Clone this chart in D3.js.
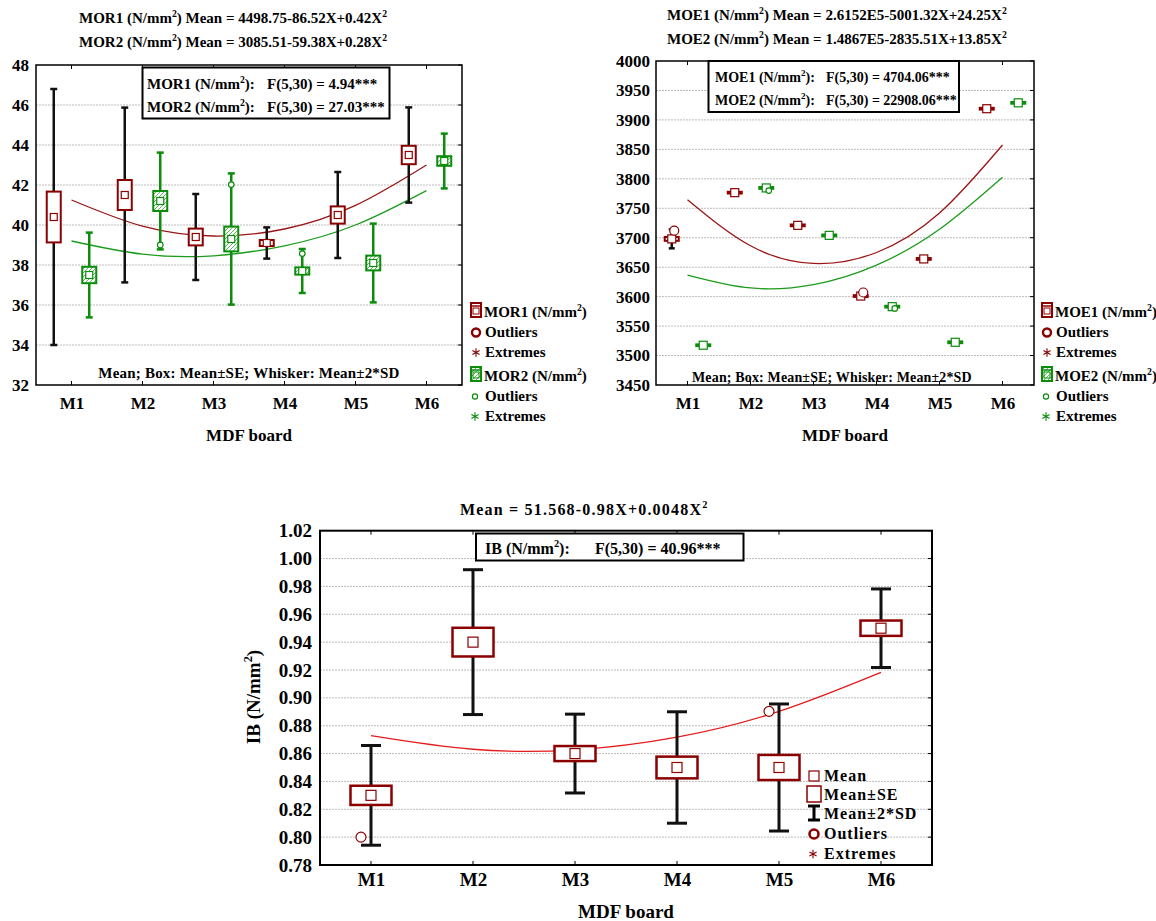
<!DOCTYPE html>
<html>
<head>
<meta charset="utf-8">
<script src="https://cdn.jsdelivr.net/npm/d3@7"></script>
<style>
  body { margin: 0; background: #fff; }
  svg { display: block; font-family: "Liberation Serif", "Times New Roman", serif; font-weight: bold; }
</style>
</head>
<body>
<svg id="chart" width="1156" height="921"></svg>
<script>
const boards = ["M1", "M2", "M3", "M4", "M5", "M6"];

// MOR (N/mm2): mean, standard error, 2*SD, fitted curve at each board
const mor1Mean = [40.4, 41.5, 39.4, 39.1, 40.5, 43.5];
const mor1SE   = [1.27, 0.75, 0.42, 0.15, 0.43, 0.46];
const mor1SD2  = [6.4, 4.37, 2.15, 0.78, 2.15, 2.38];
const mor1Fit  = [41.25, 39.94, 39.45, 39.8, 40.98, 43.0];
const mor1Out  = [];
const mor2Mean = [37.5, 41.2, 39.3, 37.7, 38.1, 43.2];
const mor2SE   = [0.41, 0.5, 0.62, 0.18, 0.37, 0.24];
const mor2SD2  = [2.12, 2.42, 3.28, 1.1, 1.97, 1.37];
const mor2Fit  = [39.2, 38.54, 38.46, 38.96, 40.0, 41.72];
const mor2Out  = [{ board: "M2", value: 39.0 }, { board: "M3", value: 42.02 }, { board: "M4", value: 38.57 }];
const morTicks = [32, 34, 36, 38, 40, 42, 44, 46, 48];

// MOE (N/mm2)
const moe1Mean = [3698, 3776.5, 3721, 3601, 3664, 3919];
const moe1SE   = [3.3, 1.5, 1.5, 1.5, 1.5, 1.5];
const moe1SD2  = [16, 2, 2, 2, 2, 2];
const moe1Fit  = [3764.6, 3686.3, 3656.3, 3674.9, 3741.9, 3857.4];
const moe1Out  = [{ board: "M1", value: 3712 }, { board: "M4", value: 3607 }];
const moe2Mean = [3517.5, 3784.5, 3704, 3583, 3522.5, 3929];
const moe2SE   = [1.5, 1.5, 1.5, 1.5, 1.5, 1.5];
const moe2SD2  = [2, 2, 2, 2, 2, 2];
const moe2Fit  = [3636.7, 3614.7, 3620.3, 3653.5, 3714.3, 3802.6];
const moe2Out  = [{ board: "M2", value: 3780 }, { board: "M4", value: 3580 }];
const moeTicks = [3450, 3500, 3550, 3600, 3650, 3700, 3750, 3800, 3850, 3900, 3950, 4000];

// IB (N/mm2)
const ibMean = [0.83, 0.94, 0.86, 0.85, 0.85, 0.95];
const ibSE   = [0.0069, 0.0103, 0.0054, 0.0078, 0.009, 0.0055];
const ibSD2  = [0.0358, 0.052, 0.0283, 0.04, 0.0456, 0.0282];
const ibFit  = [0.8729, 0.8631, 0.8627, 0.8718, 0.8903, 0.9183];
const ibOut  = [{ board: "M1", value: 0.800 }, { board: "M5", value: 0.8903 }];
const ibTicks = [0.78, 0.80, 0.82, 0.84, 0.86, 0.88, 0.90, 0.92, 0.94, 0.96, 0.98, 1.00, 1.02];

const RED = "#8b0000", GREEN = "#0b8c0b";

const svg = d3.select("#chart");
const defs = svg.append("defs");
const pat = defs.append("pattern").attr("id", "hatch")
  .attr("patternUnits", "userSpaceOnUse").attr("width", 4).attr("height", 4);
pat.append("rect").attr("width", 4).attr("height", 4).attr("fill", "#fff");
pat.append("path").attr("d", "M-1,1 l2,-2 M0,4 l4,-4 M3,5 l2,-2")
  .attr("stroke", "#5fba5f").attr("stroke-width", 1);

// text with ^2 superscripts
function rich(t, str) {
  const fs = parseFloat(t.attr("font-size"));
  const up = fs * 0.42;
  str.split(/\^(\d)/).forEach((p, k) => {
    if (!p) return;
    if (k % 2) t.append("tspan").attr("font-size", fs * 0.65).attr("dy", -up).text(p);
    else t.append("tspan").attr("dy", k ? up : 0).text(p);
  });
  return t;
}

function label(x, y, str, fs, opts = {}) {
  const t = svg.append("text").attr("x", x).attr("y", y).attr("font-size", fs)
    .attr("text-anchor", opts.anchor || "start")
    .attr("letter-spacing", opts.ls || 0);
  if (opts.rotate) t.attr("transform", `rotate(-90,${x},${y})`);
  return rich(t, str);
}

function drawPanel(c) {
  const g = svg.append("g");
  const x = d3.scalePoint().domain(boards).range([c.left, c.right]).padding(0.5);
  const y = d3.scaleLinear().domain(c.domain).range([c.bottom, c.top]);
  const step = x.step();

  g.append("g").selectAll("line").data(c.ticks.slice(1, -1)).join("line")
    .attr("x1", c.left).attr("x2", c.right)
    .attr("y1", d => y(d)).attr("y2", d => y(d))
    .attr("stroke", "#bcbcbc").attr("stroke-dasharray", "2,1");

  const ya = g.append("g").attr("transform", `translate(${c.left},0)`)
    .call(d3.axisLeft(y).tickValues(c.ticks).tickFormat(c.fmt).tickSize(0).tickPadding(c.yPad));
  ya.attr("font-family", null).attr("font-size", c.tickFs);
  ya.select(".domain").remove();

  const xa = g.append("g").attr("transform", `translate(0,${c.bottom})`)
    .call(d3.axisBottom(x).tickSize(0).tickPadding(c.xPad));
  xa.attr("font-family", null).attr("font-size", c.tickFs);
  xa.select(".domain").remove();

  g.append("text").attr("x", (c.left + c.right) / 2).attr("y", c.xTitleY)
    .attr("text-anchor", "middle").attr("font-size", c.tickFs).text("MDF board");

  // inner ticks on right, top, bottom
  g.append("g").selectAll("line").data(c.ticks).join("line")
    .attr("x1", c.right - 4).attr("x2", c.right).attr("y1", d => y(d)).attr("y2", d => y(d))
    .attr("stroke", "#000");
  g.append("g").selectAll("line").data(boards).join("line")
    .attr("x1", d => x(d)).attr("x2", d => x(d)).attr("y1", c.top).attr("y2", c.top + 4)
    .attr("stroke", "#000");
  g.append("g").selectAll("line").data(boards).join("line")
    .attr("x1", d => x(d)).attr("x2", d => x(d)).attr("y1", c.bottom - 4).attr("y2", c.bottom)
    .attr("stroke", "#000");

  // fitted curves
  c.series.forEach(s => {
    g.append("path")
      .datum(boards.map((b, i) => [x(b), y(s.fit[i])]))
      .attr("d", d3.line().curve(d3.curveNatural))
      .attr("fill", "none").attr("stroke", s.curve).attr("stroke-width", s.curveW || 1.3);
  });

  c.series.forEach(s => {
    const sg = g.append("g");
    const rows = boards.map((b, i) => ({
      cx: x(b) + s.offset * step, m: s.mean[i], se: s.se[i], sd2: s.sd2[i]
    }));
    sg.selectAll(".wh").data(rows).join("line")
      .attr("x1", d => d.cx).attr("x2", d => d.cx)
      .attr("y1", d => y(d.m + d.sd2)).attr("y2", d => y(d.m - d.sd2))
      .attr("stroke", s.whisker).attr("stroke-width", c.wStroke);
    ["top", "bot"].forEach(k => {
      sg.selectAll(".cap-" + k).data(rows).join("line")
        .attr("x1", d => d.cx - c.capW / 2).attr("x2", d => d.cx + c.capW / 2)
        .attr("y1", d => y(k === "top" ? d.m + d.sd2 : d.m - d.sd2))
        .attr("y2", d => y(k === "top" ? d.m + d.sd2 : d.m - d.sd2))
        .attr("stroke", s.whisker).attr("stroke-width", c.wStroke);
    });
    sg.selectAll(".box").data(rows).join("rect")
      .attr("x", d => d.cx - c.boxW / 2).attr("width", c.boxW)
      .attr("y", d => y(d.m + d.se)).attr("height", d => y(d.m - d.se) - y(d.m + d.se))
      .attr("fill", s.hatch ? "url(#hatch)" : "#fff")
      .attr("stroke", s.color).attr("stroke-width", c.boxStroke);
    sg.selectAll(".mk").data(rows).join("rect")
      .attr("x", d => d.cx - c.markW / 2).attr("y", d => y(d.m) - c.markW / 2)
      .attr("width", c.markW).attr("height", c.markW)
      .attr("fill", "#fff").attr("stroke", s.color).attr("stroke-width", 1.2);
    sg.selectAll(".out").data(s.out).join("circle")
      .attr("cx", d => x(d.board) + s.offset * step + c.outDx).attr("cy", d => y(d.value))
      .attr("r", s.outR).attr("fill", "#fff")
      .attr("stroke", s.color).attr("stroke-width", s.outW || 1.2);
  });

  g.append("rect").attr("x", c.left).attr("y", c.top)
    .attr("width", c.right - c.left).attr("height", c.bottom - c.top)
    .attr("fill", "none").attr("stroke", "#000").attr("stroke-width", c.frameW);
}

function statsBox(x0, y0, x1, y1, rows, colX, ys, fs) {
  svg.append("rect").attr("x", x0).attr("y", y0).attr("width", x1 - x0).attr("height", y1 - y0)
    .attr("fill", "#fff").attr("stroke", "#000").attr("stroke-width", 2);
  rows.forEach((r, i) => {
    label(colX[0], ys[i], r[0], fs);
    label(colX[1], ys[i], r[1], fs);
  });
}

const asterisk = d3.symbol(d3.symbolAsterisk, 48);

function pairLegend(ix, tx, names) {
  const ys = [317, 337, 357, 381, 401, 421];
  [[0, RED, "#fff"], [3, GREEN, "url(#hatch)"]].forEach(([k, col, fill]) => {
    svg.append("rect").attr("x", ix - 5).attr("y", ys[k] - 14).attr("width", 10).attr("height", 14)
      .attr("fill", fill).attr("stroke", col).attr("stroke-width", 2);
    svg.append("line").attr("x1", ix - 5).attr("x2", ix + 5).attr("y1", ys[k] - 11).attr("y2", ys[k] - 11)
      .attr("stroke", col).attr("stroke-width", 1.5);
    svg.append("rect").attr("x", ix - 3).attr("y", ys[k] - 9).attr("width", 6).attr("height", 6)
      .attr("fill", "none").attr("stroke", col).attr("stroke-width", 1);
  });
  svg.append("circle").attr("cx", ix).attr("cy", ys[1] - 4.5).attr("r", 4)
    .attr("fill", "#fff").attr("stroke", RED).attr("stroke-width", 2.4);
  svg.append("circle").attr("cx", ix - 1).attr("cy", ys[4] - 4.5).attr("r", 2.6)
    .attr("fill", "#fff").attr("stroke", GREEN).attr("stroke-width", 1.2);
  [[2, RED, ix], [5, GREEN, ix - 1]].forEach(([k, col, cx]) => {
    svg.append("path").attr("d", asterisk).attr("transform", `translate(${cx},${ys[k] - 4.5})`)
      .attr("fill", "none").attr("stroke", col).attr("stroke-width", 1.1);
  });
  const texts = [names[0], "Outliers", "Extremes", names[1], "Outliers", "Extremes"];
  texts.forEach((t, i) => label(i === 0 || i === 3 ? tx : tx + 1, ys[i], t, 15));
}

// ---------- Panel A: MOR ----------
drawPanel({
  left: 36, right: 462, top: 65, bottom: 385, domain: [32, 48], ticks: morTicks,
  fmt: d3.format("d"), tickFs: 17, yPad: 7, xPad: 12, xTitleY: 441,
  frameW: 1.5, boxW: 14, capW: 7, markW: 7, wStroke: 2.5, boxStroke: 2, outDx: 0,
  series: [
    { mean: mor1Mean, se: mor1SE, sd2: mor1SD2, fit: mor1Fit, out: mor1Out, color: RED,
      whisker: "#111", hatch: false, offset: -0.25, outR: 4, curve: "#9a1515" },
    { mean: mor2Mean, se: mor2SE, sd2: mor2SD2, fit: mor2Fit, out: mor2Out, color: GREEN,
      whisker: GREEN, hatch: true, offset: 0.25, outR: 2.8, curve: "#1c9c1c" }
  ]
});
label(79, 23, "MOR1 (N/mm^2) Mean = 4498.75-86.52X+0.42X^2", 15);
label(79, 47, "MOR2 (N/mm^2) Mean = 3085.51-59.38X+0.28X^2", 15);
statsBox(142.5, 67.5, 389.5, 118.5,
  [["MOR1 (N/mm^2):", "F(5,30) = 4.94***"], ["MOR2 (N/mm^2):", "F(5,30) = 27.03***"]],
  [147, 267], [89, 112], 15);
label(249, 378, "Mean; Box: Mean\u00B1SE; Whisker: Mean\u00B12*SD", 15, { anchor: "middle", ls: 0.2 });
pairLegend(476, 484, ["MOR1 (N/mm^2)", "MOR2 (N/mm^2)"]);

// ---------- Panel B: MOE ----------
drawPanel({
  left: 656, right: 1034, top: 61, bottom: 385, domain: [3450, 4000], ticks: moeTicks,
  fmt: d3.format("d"), tickFs: 17, yPad: 6, xPad: 12, xTitleY: 441,
  frameW: 1.5, boxW: 14, capW: 6, markW: 8, wStroke: 2.5, boxStroke: 2, outDx: 2.5,
  series: [
    { mean: moe1Mean, se: moe1SE, sd2: moe1SD2, fit: moe1Fit, out: moe1Out, color: RED,
      whisker: "#111", hatch: false, offset: -0.25, outR: 4.5, curve: "#9a1515" },
    { mean: moe2Mean, se: moe2SE, sd2: moe2SD2, fit: moe2Fit, out: moe2Out, color: GREEN,
      whisker: GREEN, hatch: true, offset: 0.25, outR: 2.8, curve: "#1c9c1c" }
  ]
});
label(667, 20, "MOE1 (N/mm^2) Mean = 2.6152E5-5001.32X+24.25X^2", 15);
label(667, 44, "MOE2 (N/mm^2) Mean = 1.4867E5-2835.51X+13.85X^2", 15);
statsBox(708.5, 61, 959, 112,
  [["MOE1 (N/mm^2):", "F(5,30) = 4704.06***"], ["MOE2 (N/mm^2):", "F(5,30) = 22908.06***"]],
  [715, 826], [82, 105], 14);
label(692, 382, "Mean; Box: Mean\u00B1SE; Whisker: Mean\u00B12*SD", 14, { ls: 0.15 });
pairLegend(1047, 1055, ["MOE1 (N/mm^2)", "MOE2 (N/mm^2)"]);

// ---------- Panel C: IB ----------
drawPanel({
  left: 320, right: 932, top: 530.7, bottom: 865, domain: [0.78, 1.02], ticks: ibTicks,
  fmt: d3.format(".2f"), tickFs: 19, yPad: 8, xPad: 8, xTitleY: 918,
  frameW: 2, boxW: 41, capW: 20, markW: 10, wStroke: 3, boxStroke: 2.5, outDx: -10,
  series: [
    { mean: ibMean, se: ibSE, sd2: ibSD2, fit: ibFit, out: ibOut, color: RED,
      whisker: "#111", hatch: false, offset: 0, outR: 5, curve: "#e31b1b", curveW: 1.3 }
  ]
});
label(460, 515, "Mean = 51.568-0.98X+0.0048X^2", 16, { ls: 1.2 });
statsBox(476, 533.5, 743.5, 560.5, [["IB (N/mm^2):", "F(5,30) = 40.96***"]], [485, 595], [554], 16);
label(260, 697, "IB (N/mm^2)", 19, { anchor: "middle", rotate: true });

// IB legend
(function () {
  const ix = 814, tx = 824, ys = [781, 800, 819, 839, 859];
  svg.append("rect").attr("x", ix - 5).attr("y", ys[0] - 10).attr("width", 10).attr("height", 10)
    .attr("fill", "none").attr("stroke", RED).attr("stroke-width", 1.2);
  svg.append("rect").attr("x", ix - 7).attr("y", ys[1] - 14).attr("width", 14).attr("height", 16)
    .attr("fill", "none").attr("stroke", RED).attr("stroke-width", 1.5);
  svg.append("path").attr("d", `M${ix - 6},${ys[2] - 13}H${ix + 6}M${ix},${ys[2] - 13}V${ys[2] + 1}M${ix - 6},${ys[2] + 1}H${ix + 6}`)
    .attr("fill", "none").attr("stroke", "#000").attr("stroke-width", 3);
  svg.append("circle").attr("cx", ix).attr("cy", ys[3] - 5).attr("r", 4.5)
    .attr("fill", "#fff").attr("stroke", RED).attr("stroke-width", 2.6);
  svg.append("path").attr("d", asterisk).attr("transform", `translate(${ix - 1},${ys[4] - 5})`)
    .attr("fill", "none").attr("stroke", RED).attr("stroke-width", 1.1);
  ["Mean", "Mean\u00B1SE", "Mean\u00B12*SD", "Outliers", "Extremes"]
    .forEach((t, i) => label(tx, ys[i], t, 16, { ls: 1 }));
})();
</script>
</body>
</html>
